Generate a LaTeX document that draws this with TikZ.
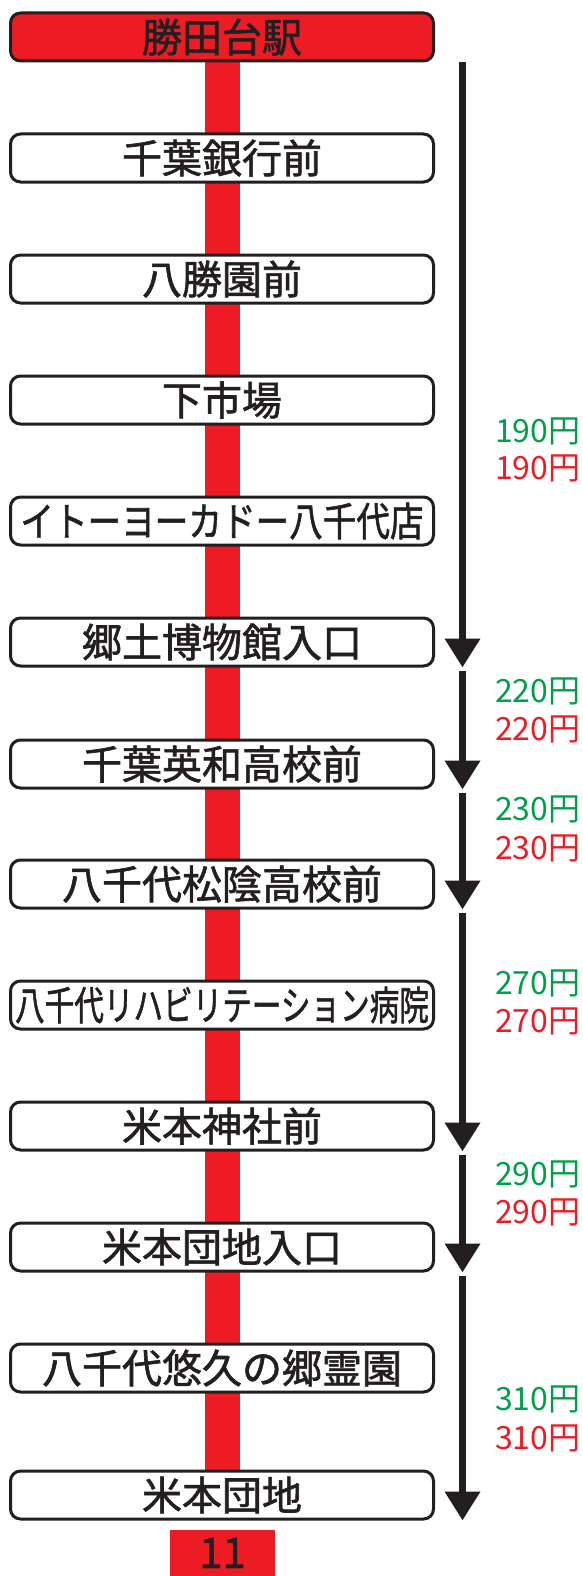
\documentclass[tikz,border=0pt]{standalone}
\usepackage{fontspec}
\setmainfont{Noto Sans CJK JP}
\newfontfamily\signfont{Noto Sans CJK JP}[FakeBold=1.5]
\usepackage{graphicx}
\usetikzlibrary{arrows.meta,backgrounds}

\definecolor{linered}{HTML}{ED1C24}
\definecolor{ink}{HTML}{231F20}
\definecolor{faregreen}{HTML}{00A04A}
\definecolor{farered}{HTML}{ED1C24}

\tikzset{
  stopbox/.style={draw=ink, line width=3pt, rounded corners=10pt, fill=white,
    minimum width=423pt, minimum height=48pt, inner sep=0pt, text=ink,
    font=\signfont\fontsize{40}{40}\selectfont},
  terminal/.style={stopbox, fill=linered},
  fare/.style={anchor=west, inner sep=0pt, font=\fontsize{32}{32}\selectfont},
  leg/.style={draw=ink, line width=7pt, -{Triangle[length=29pt,width=34pt]}},
}

\newcommand{\squeeze}[2]{\scalebox{#1}[1]{#2}}

\begin{document}
\begin{tikzpicture}[x=1pt,y=-1pt]
    \useasboundingbox (0,0) rectangle (582,1576);

    \node[terminal] (s0) at (222,37) {勝田台駅};
    \node[stopbox] (s1) at (222,158) {千葉銀行前};
    \node[stopbox] (s2) at (222,279) {八勝園前};
    \node[stopbox] (s3) at (222,400) {下市場};
    \node[stopbox] (s4) at (222,521) {\squeeze{0.84}{イトーヨーカドー八千代店}};
    \node[stopbox] (s5) at (222,642) {郷土博物館入口};
    \node[stopbox] (s6) at (222,764) {千葉英和高校前};
    \node[stopbox] (s7) at (222,884) {八千代松陰高校前};
    \node[stopbox] (s8) at (222,1005) {\squeeze{0.74}{八千代リハビリテーション病院}};
    \node[stopbox] (s9) at (222,1126) {米本神社前};
    \node[stopbox] (s10) at (222,1247) {米本団地入口};
    \node[stopbox] (s11) at (222,1368) {八千代悠久の郷霊園};
    \node[stopbox] (s12) at (222,1495) {米本団地};

    \begin{scope}[on background layer]
      \draw[line width=35pt, linered] (s0.south) -- (s12.north);
    \end{scope}

    \node[fill=linered, minimum width=105pt, minimum height=46pt, inner sep=0pt,
      text=ink, font=\signfont\fontsize{42}{42}\selectfont] (route) at (222.5,1553) {11};

    \coordinate (ax) at (462.5,62);
    \coordinate (t5) at (s5.south -| ax);
    \coordinate (t6) at (s6.south -| ax);
    \coordinate (t7) at (s7.south -| ax);
    \coordinate (t9) at (s9.south -| ax);
    \coordinate (t10) at (s10.south -| ax);
    \coordinate (t12) at (s12.south -| ax);

    \draw[leg] (ax) -- (t5);
    \draw[leg] ([yshift=-3pt]t5) -- (t6);
    \draw[leg] ([yshift=-3pt]t6) -- (t7);
    \draw[leg] ([yshift=-3pt]t7) -- (t9);
    \draw[leg] ([yshift=-3pt]t9) -- (t10);
    \draw[leg] ([yshift=-3pt]t10) -- (t12);

    \node[fare, text=faregreen] (g1) at (495,431) {190円};
    \node[fare, text=farered] (r1) at (495,468) {190円};
    \node[fare, text=faregreen] (g2) at (495,691) {220円};
    \node[fare, text=farered] (r2) at (495,729) {220円};
    \node[fare, text=faregreen] (g3) at (495,809) {230円};
    \node[fare, text=farered] (r3) at (495,848) {230円};
    \node[fare, text=faregreen] (g4) at (495,983) {270円};
    \node[fare, text=farered] (r4) at (495,1021) {270円};
    \node[fare, text=faregreen] (g5) at (495,1174) {290円};
    \node[fare, text=farered] (r5) at (495,1212) {290円};
    \node[fare, text=faregreen] (g6) at (495,1399) {310円};
    \node[fare, text=farered] (r6) at (495,1438) {310円};
  \end{tikzpicture}
\end{document}
